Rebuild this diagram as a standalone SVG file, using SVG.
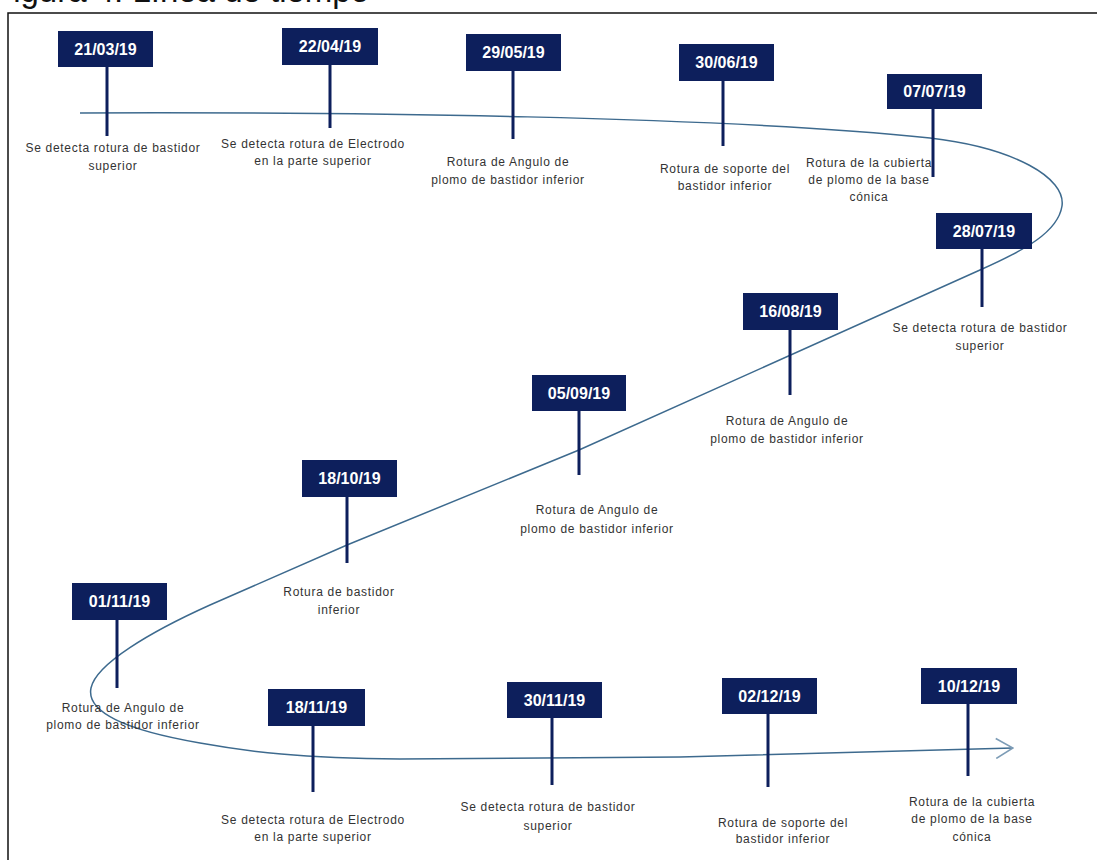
<svg xmlns="http://www.w3.org/2000/svg" width="1097" height="860" viewBox="0 0 1097 860">
  <style>
    .frame { fill: none; stroke: #111; stroke-width: 1.5; }
    .title { font-family: "Liberation Sans", Arial, sans-serif; font-size: 33px; fill: #111; }
    .box { fill: #0d1f5c; }
    .stem { stroke: #0d1f5c; stroke-width: 3; }
    .date { font-family: "Liberation Sans", Arial, sans-serif; font-size: 16px; font-weight: bold; fill: #ffffff; text-anchor: middle; }
    .lbl { font-family: "Liberation Sans", Arial, sans-serif; font-size: 12px; fill: #333; text-anchor: middle; letter-spacing: 0.7px; }
    .flow { fill: none; stroke: #3d6a8e; stroke-width: 1.5; }
  </style>
  <defs>
    <marker id="arrow" viewBox="0 0 20 22" refX="19" refY="11" markerWidth="20" markerHeight="22" markerUnits="userSpaceOnUse" orient="auto">
      <path d="M2,1 L19,11 L2,21" fill="none" stroke="#7d9cb6" stroke-width="1.6"/>
    </marker>
  </defs>

  <rect width="1097" height="860" fill="#ffffff"/>

  <!-- caption above the frame (cut at the top edge) -->
  <text class="title" x="-7" y="2">Figura 4. Línea de tiempo</text>

  <!-- outer frame -->
  <path class="frame" d="M8,870 L8,13 L1105,13"/>

  <!-- timeline path -->
  <g id="connectors">
    <path class="flow" marker-end="url(#arrow)" d="M80,113 C350,112 720,116 930,138 C1015,148 1066,178 1062,206 C1058,232 1025,250 980,270 L579,450 L347,545 L210,605 C150,632 96,664 91,688 C86,712 125,730 200,743 C250,752 300,758 400,759 L680,757 L1013,748"/>
  </g>

  <g id="n1">
    <line class="stem" x1="107" y1="60" x2="107" y2="136"/>
    <rect class="box" x="58" y="31" width="95" height="36"/>
    <text class="date" x="105.5" y="54.5">21/03/19</text>
    <text class="lbl" x="113" y="152">Se detecta rotura de bastidor</text>
    <text class="lbl" x="113" y="170">superior</text>
  </g>

  <g id="n2">
    <line class="stem" x1="330" y1="60" x2="330" y2="128"/>
    <rect class="box" x="282" y="28" width="96" height="37"/>
    <text class="date" x="330" y="52">22/04/19</text>
    <text class="lbl" x="313" y="148">Se detecta rotura de Electrodo</text>
    <text class="lbl" x="313" y="165">en la parte superior</text>
  </g>

  <g id="n3">
    <line class="stem" x1="513" y1="65" x2="513" y2="139"/>
    <rect class="box" x="466" y="34" width="95" height="37"/>
    <text class="date" x="513.5" y="58">29/05/19</text>
    <text class="lbl" x="508" y="166">Rotura de Angulo de</text>
    <text class="lbl" x="508" y="184">plomo de bastidor inferior</text>
  </g>

  <g id="n4">
    <line class="stem" x1="723" y1="75" x2="723" y2="146"/>
    <rect class="box" x="679" y="44" width="95" height="37"/>
    <text class="date" x="726.5" y="68">30/06/19</text>
    <text class="lbl" x="725" y="173">Rotura de soporte del</text>
    <text class="lbl" x="725" y="190">bastidor inferior</text>
  </g>

  <g id="n5">
    <line class="stem" x1="933" y1="104" x2="933" y2="177"/>
    <rect class="box" x="887" y="74" width="95" height="35"/>
    <text class="date" x="934.5" y="97">07/07/19</text>
    <text class="lbl" x="869" y="167">Rotura de la cubierta</text>
    <text class="lbl" x="869" y="184">de plomo de la base</text>
    <text class="lbl" x="869" y="201">cónica</text>
  </g>

  <g id="n6">
    <line class="stem" x1="982" y1="244" x2="982" y2="307"/>
    <rect class="box" x="936" y="213" width="96" height="36"/>
    <text class="date" x="984" y="236.5">28/07/19</text>
    <text class="lbl" x="980" y="332">Se detecta rotura de bastidor</text>
    <text class="lbl" x="980" y="350">superior</text>
  </g>

  <g id="n7">
    <line class="stem" x1="790" y1="325" x2="790" y2="395"/>
    <rect class="box" x="743" y="293" width="95" height="37"/>
    <text class="date" x="790.5" y="317">16/08/19</text>
    <text class="lbl" x="787" y="425">Rotura de Angulo de</text>
    <text class="lbl" x="787" y="443">plomo de bastidor inferior</text>
  </g>

  <g id="n8">
    <line class="stem" x1="579" y1="406" x2="579" y2="475"/>
    <rect class="box" x="532" y="375" width="94" height="36"/>
    <text class="date" x="579" y="398.5">05/09/19</text>
    <text class="lbl" x="597" y="514">Rotura de Angulo de</text>
    <text class="lbl" x="597" y="533">plomo de bastidor inferior</text>
  </g>

  <g id="n9">
    <line class="stem" x1="347" y1="492" x2="347" y2="563"/>
    <rect class="box" x="302" y="460" width="95" height="37"/>
    <text class="date" x="349.5" y="484">18/10/19</text>
    <text class="lbl" x="339" y="596">Rotura de bastidor</text>
    <text class="lbl" x="339" y="614">inferior</text>
  </g>

  <g id="n10">
    <line class="stem" x1="117" y1="615" x2="117" y2="688"/>
    <rect class="box" x="72" y="583" width="95" height="37"/>
    <text class="date" x="119.5" y="607">01/11/19</text>
    <text class="lbl" x="123" y="712">Rotura de Angulo de</text>
    <text class="lbl" x="123" y="729">plomo de bastidor inferior</text>
  </g>

  <g id="n11">
    <line class="stem" x1="313" y1="721" x2="313" y2="792"/>
    <rect class="box" x="268" y="689" width="97" height="37"/>
    <text class="date" x="316.5" y="713">18/11/19</text>
    <text class="lbl" x="313" y="824">Se detecta rotura de Electrodo</text>
    <text class="lbl" x="313" y="841">en la parte superior</text>
  </g>

  <g id="n12">
    <line class="stem" x1="552" y1="713" x2="552" y2="785"/>
    <rect class="box" x="507" y="682" width="95" height="36"/>
    <text class="date" x="554.5" y="705.5">30/11/19</text>
    <text class="lbl" x="548" y="811">Se detecta rotura de bastidor</text>
    <text class="lbl" x="548" y="830">superior</text>
  </g>

  <g id="n13">
    <line class="stem" x1="768" y1="709" x2="768" y2="787"/>
    <rect class="box" x="722" y="678" width="95" height="36"/>
    <text class="date" x="769.5" y="701.5">02/12/19</text>
    <text class="lbl" x="783" y="827">Rotura de soporte del</text>
    <text class="lbl" x="783" y="843">bastidor inferior</text>
  </g>

  <g id="n14">
    <line class="stem" x1="968" y1="699" x2="968" y2="776"/>
    <rect class="box" x="921" y="668" width="96" height="36"/>
    <text class="date" x="969" y="691.5">10/12/19</text>
    <text class="lbl" x="972" y="806">Rotura de la cubierta</text>
    <text class="lbl" x="972" y="823">de plomo de la base</text>
    <text class="lbl" x="972" y="841">cónica</text>
  </g>
</svg>
